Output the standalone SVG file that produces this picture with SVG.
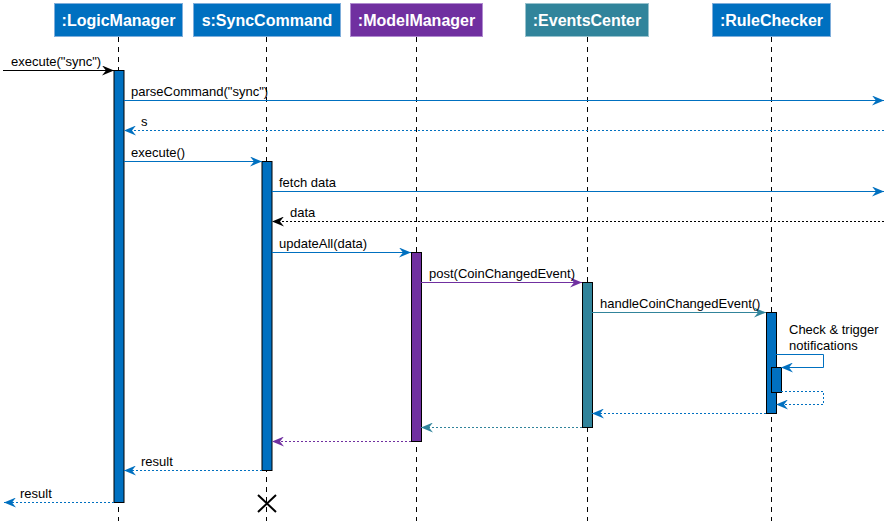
<svg xmlns="http://www.w3.org/2000/svg" width="895" height="531" viewBox="0 0 895 531">
<defs>
<style>
.hdr{stroke-width:1}
.hdrt{font-family:"Liberation Sans",Arial,sans-serif;font-size:16px;font-weight:bold;fill:#fff;text-anchor:middle}
.life{stroke:#000;stroke-width:1;stroke-dasharray:5,5;fill:none}
.act{stroke:#000;stroke-width:1}
.msg{font-family:"Liberation Sans",Arial,sans-serif;font-size:13px;fill:#000}
.ln{fill:none;stroke-width:1}
.dot{stroke-dasharray:2,2}
.blue{stroke:#0070C0}
.purple{stroke:#7030A0}
.teal{stroke:#31849B}
.black{stroke:#000}
</style>
<marker id="ab" viewBox="0 0 12 10" refX="12" refY="5" markerWidth="12" markerHeight="10" markerUnits="userSpaceOnUse" orient="auto"><path d="M0,0 L12,5 L0,10 L4,5 Z" fill="#0070C0"/></marker>
<marker id="ap" viewBox="0 0 12 10" refX="12" refY="5" markerWidth="12" markerHeight="10" markerUnits="userSpaceOnUse" orient="auto"><path d="M0,0 L12,5 L0,10 L4,5 Z" fill="#7030A0"/></marker>
<marker id="at" viewBox="0 0 12 10" refX="12" refY="5" markerWidth="12" markerHeight="10" markerUnits="userSpaceOnUse" orient="auto"><path d="M0,0 L12,5 L0,10 L4,5 Z" fill="#31849B"/></marker>
<marker id="ak" viewBox="0 0 12 10" refX="12" refY="5" markerWidth="12" markerHeight="10" markerUnits="userSpaceOnUse" orient="auto"><path d="M0,0 L12,5 L0,10 L4,5 Z" fill="#000"/></marker>
</defs>
<rect width="895" height="531" fill="#fff"/>

<g id="lifelines">
<line class="life" x1="118.5" y1="37" x2="118.5" y2="521"/>
<line class="life" x1="266.5" y1="37" x2="266.5" y2="521"/>
<line class="life" x1="416.5" y1="37" x2="416.5" y2="521"/>
<line class="life" x1="587.5" y1="37" x2="587.5" y2="521"/>
<line class="life" x1="771.5" y1="37" x2="771.5" y2="521"/>
</g>

<g id="LogicManager">
<rect class="hdr" x="54.5" y="3.5" width="128" height="33" fill="#0070C0" stroke="#7FAEDB"/>
<text class="hdrt" x="118.5" y="26">:LogicManager</text>
<rect class="act" x="114" y="70.5" width="10" height="432" fill="#0070C0"/>
</g>
<g id="SyncCommand">
<rect class="hdr" x="193.5" y="3.5" width="147" height="33" fill="#0070C0" stroke="#7FAEDB"/>
<text class="hdrt" x="267" y="26">s:SyncCommand</text>
<rect class="act" x="262" y="161.5" width="10" height="309" fill="#0070C0"/>
<path d="M258,495 L276,512 M276,495 L258,512" stroke="#000" stroke-width="2" fill="none"/>
</g>
<g id="ModelManager">
<rect class="hdr" x="350.5" y="3.5" width="132" height="33" fill="#7030A0" stroke="#B08BD0"/>
<text class="hdrt" x="416.5" y="26">:ModelManager</text>
<rect class="act" x="411.5" y="252.5" width="10" height="189" fill="#7030A0"/>
</g>
<g id="EventsCenter">
<rect class="hdr" x="525.5" y="3.5" width="123" height="33" fill="#31849B" stroke="#98C2CD"/>
<text class="hdrt" x="587" y="26">:EventsCenter</text>
<rect class="act" x="582.5" y="282.5" width="10" height="145" fill="#31849B"/>
</g>
<g id="RuleChecker">
<rect class="hdr" x="712.5" y="3.5" width="118" height="33" fill="#0070C0" stroke="#7FAEDB"/>
<text class="hdrt" x="771.5" y="26">:RuleChecker</text>
<rect class="act" x="766.5" y="312.5" width="10" height="101" fill="#0070C0"/>
<rect class="act" x="771.5" y="367.5" width="10" height="25" fill="#0070C0"/>
</g>

<g id="connectors">
<line class="ln black" x1="3" y1="70.5" x2="114" y2="70.5" marker-end="url(#ak)"/>
<text class="msg" x="11" y="66">execute("sync")</text>

<line class="ln blue" x1="124" y1="100.5" x2="884" y2="100.5" marker-end="url(#ab)"/>
<text class="msg" x="131" y="96">parseCommand("sync")</text>

<line class="ln blue dot" x1="884" y1="130.5" x2="124" y2="130.5" marker-end="url(#ab)"/>
<text class="msg" x="141" y="126">s</text>

<line class="ln blue" x1="124" y1="161.5" x2="262" y2="161.5" marker-end="url(#ab)"/>
<text class="msg" x="131" y="157">execute()</text>

<line class="ln blue" x1="272" y1="191.5" x2="884" y2="191.5" marker-end="url(#ab)"/>
<text class="msg" x="279" y="187">fetch data</text>

<line class="ln black dot" x1="884" y1="221.5" x2="272" y2="221.5" marker-end="url(#ak)"/>
<text class="msg" x="290" y="217">data</text>

<line class="ln blue" x1="272" y1="252.5" x2="411" y2="252.5" marker-end="url(#ab)"/>
<text class="msg" x="279" y="248">updateAll(data)</text>

<line class="ln purple" x1="421" y1="282.5" x2="582" y2="282.5" marker-end="url(#ap)"/>
<text class="msg" x="429" y="278">post(CoinChangedEvent)</text>

<line class="ln teal" x1="592" y1="312.5" x2="766" y2="312.5" marker-end="url(#at)"/>
<text class="msg" x="600" y="308">handleCoinChangedEvent()</text>

<path class="ln blue" d="M776,354.5 H823.5 V367.5 H781" marker-end="url(#ab)"/>
<text class="msg" x="789" y="334">Check &amp; trigger</text>
<text class="msg" x="789" y="350">notifications</text>

<path class="ln blue dot" d="M781,391.5 H823.5 V404.5 H776" marker-end="url(#ab)"/>

<line class="ln blue dot" x1="766" y1="413.5" x2="592" y2="413.5" marker-end="url(#ab)"/>
<line class="ln teal dot" x1="582" y1="427.5" x2="421" y2="427.5" marker-end="url(#at)"/>
<line class="ln purple dot" x1="411" y1="441.5" x2="272" y2="441.5" marker-end="url(#ap)"/>

<line class="ln blue dot" x1="262" y1="470.5" x2="124" y2="470.5" marker-end="url(#ab)"/>
<text class="msg" x="141" y="466">result</text>

<line class="ln blue dot" x1="114" y1="502.5" x2="4" y2="502.5" marker-end="url(#ab)"/>
<text class="msg" x="20" y="498">result</text>
</g>
</svg>
